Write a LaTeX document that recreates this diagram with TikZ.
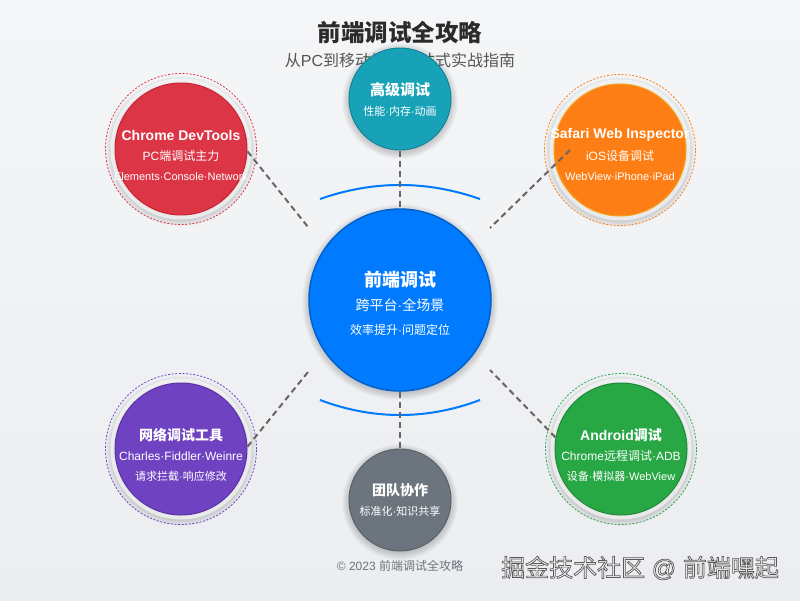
\documentclass[tikz,border=0pt]{standalone}
\usepackage{fontspec}
\setmainfont{Liberation Sans}
\newfontfamily\cjkfont{Noto Sans CJK SC}
\newcommand{\C}[1]{{\cjkfont #1}}
\newcommand{\fs}[1]{\fontsize{#1}{#1}\selectfont}
\definecolor{bgtop}{HTML}{F5F6F8}
\definecolor{bgbot}{HTML}{EBEDF0}
\definecolor{hubc}{HTML}{007BFF}
\definecolor{hubd}{HTML}{0062CC}
\definecolor{tealc}{HTML}{17A2B8}
\definecolor{teald}{HTML}{138496}
\definecolor{grayc}{HTML}{6C757D}
\definecolor{grayd}{HTML}{5A6268}
\definecolor{redc}{HTML}{DC3545}
\definecolor{redd}{HTML}{C82333}
\definecolor{orc}{HTML}{FD7E14}
\definecolor{ord}{HTML}{F5A21A}
\definecolor{grc}{HTML}{28A745}
\definecolor{grd}{HTML}{218838}
\definecolor{puc}{HTML}{6F42C1}
\definecolor{pud}{HTML}{5A32A3}
\definecolor{linkc}{HTML}{666666}
\definecolor{titlec}{HTML}{2B2B2B}
\definecolor{subc}{HTML}{555555}
\newcommand{\myglow}[3]{\foreach \k in {0,...,7}{\fill[black,opacity=0.022] (#1,#2) circle[radius=#3pt+\k pt];}}
\newcommand{\myhalo}[3]{\fill[white,opacity=0.65] (#1,#2) circle[radius=#3pt+4.5pt];}
\tikzset{
  disc/.style={circle, inner sep=0pt, line width=1pt},
  ttl/.style={text=white, inner sep=0pt, font=\bfseries\fs{14}},
  sub/.style={text=white, inner sep=0pt, font=\fs{12}},
  det/.style={text=white, inner sep=0pt, font=\fs{11}},
  link/.style={draw=linkc, line width=2pt, dash pattern=on 6pt off 4pt},
  ring/.style={line width=0.8pt, dash pattern=on 2pt off 1.6pt},
  arcst/.style={draw=hubc, line width=2pt},
}
\begin{document}
\begin{tikzpicture}[x=1pt,y=-1pt]
\useasboundingbox (0,0) rectangle (800,600);
\shade[top color=bgtop, bottom color=bgbot] (0,0) rectangle (800,600);

% title
\node[inner sep=0pt, text=titlec, font=\bfseries\fs{23.5}] (title) at (400,32) {\C{前端调试全攻略}};
\node[inner sep=0pt, text=subc, font=\fs{16}] (subtitle) at (400,60) {\C{从}PC\C{到移动端的一站式实战指南}};

% shadows
\myglow{400}{302}{91}
\myglow{400}{101}{51}
\myglow{400}{502}{51}
\myglow{181}{151}{68}
\myglow{620}{152}{68}
\myglow{181}{451}{68}
\myglow{621}{451}{68}
\myhalo{181}{149}{66}
\myhalo{620}{150}{66}
\myhalo{181}{449}{66}
\myhalo{621}{449}{66}

% arcs
\draw[arcst] (320,199) .. controls (373.3,180.3) and (426.7,180.3) .. (480,199);
\draw[arcst] (320,400) .. controls (373.3,420) and (426.7,420) .. (480,400);

% discs
\node[disc, fill=hubc, draw=hubd, line width=1.5pt, minimum size=182pt] (hub) at (400,300) {};
\node[disc, fill=tealc, draw=teald, minimum size=102pt] (adv) at (400,99) {};
\node[disc, fill=grayc, draw=grayd, minimum size=102pt] (team) at (400,500) {};
\node[disc, fill=redc, draw=redd, minimum size=132pt] (chrome) at (181,149) {};
\node[disc, fill=orc, draw=ord, minimum size=132pt] (safari) at (620,150) {};
\node[disc, fill=puc, draw=pud, minimum size=132pt] (net) at (181,449) {};
\node[disc, fill=grc, draw=grd, minimum size=132pt] (android) at (621,449) {};

% dashed rings
\draw[ring, draw=redc] (chrome.center) circle[radius=75.5pt];
\draw[ring, draw=orc] (safari.center) circle[radius=75.5pt];
\draw[ring, draw=puc] (net.center) circle[radius=75.5pt];
\draw[ring, draw=grc] (android.center) circle[radius=75.5pt];

% connectors
\coordinate (hubNW) at (308,227);
\coordinate (hubNE) at (490,228);
\coordinate (hubSW) at (308,372);
\coordinate (hubSE) at (490,370);
\coordinate (safariIn) at (570,150);
\draw[link] (adv.south) -- (hub.north);
\draw[link] (hub.south) -- (team.north);
\draw[link] (chrome.-2) -- (hubNW);
\draw[link] (safariIn) -- (hubNE);
\draw[link] (net.2) -- (hubSW);
\draw[link] (android.170) -- (hubSE);

% texts
\node[inner sep=0pt, text=white, font=\bfseries\fs{18}] (hub1) at (400,280) {\C{前端调试}};
\node[inner sep=0pt, text=white, font=\fs{14}] (hub2) at (400,305) {\C{跨平台}·\C{全场景}};
\node[inner sep=0pt, text=white, font=\fs{12}] (hub3) at (400,330) {\C{效率提升}·\C{问题定位}};

\node[ttl, font=\bfseries\fs{15}] (adv1) at (400,90) {\C{高级调试}};
\node[det] (adv2) at (400,111) {\C{性能}·\C{内存}·\C{动画}};

\node[ttl] (team1) at (400,490) {\C{团队协作}};
\node[det] (team2) at (400,511) {\C{标准化}·\C{知识共享}};

\node[ttl] (chrome1) at (181,135) {Chrome DevTools};
\node[sub] (chrome2) at (181,156) {PC\C{端调试主力}};
\node[det] (chrome3) at (181,177) {Elements·Console·Network};

\node[ttl] (safari1) at (620,135) {Safari Web Inspector};
\node[sub] (safari2) at (620,156) {iOS\C{设备调试}};
\node[det] (safari3) at (620,177) {WebView·iPhone·iPad};

\node[ttl] (net1) at (181,435) {\C{网络调试工具}};
\node[sub] (net2) at (181,456) {Charles·Fiddler·Weinre};
\node[det] (net3) at (181,476) {\C{请求拦截}·\C{响应修改}};

\node[ttl] (android1) at (621,435) {Android\C{调试}};
\node[sub] (android2) at (621,456) {Chrome\C{远程调试}·ADB};
\node[det] (android3) at (621,476) {\C{设备}·\C{模拟器}·WebView};

% footer
\node[inner sep=0pt, text=grayc, font=\fs{12}] (copy) at (400,566) {© 2023 \C{前端调试全攻略}};

% watermark: white text with a dark outline (text render mode 2)
\node[inner sep=0pt, text=white!96!black, font=\fs{24}] (mark) at (640,568)
  {\special{pdf:literal direct 2 Tr 0.7 w 0.35 G}\C{掘金技术社区} @ \C{前端嘿起}\special{pdf:literal direct 0 Tr}};
\end{tikzpicture}
\end{document}
